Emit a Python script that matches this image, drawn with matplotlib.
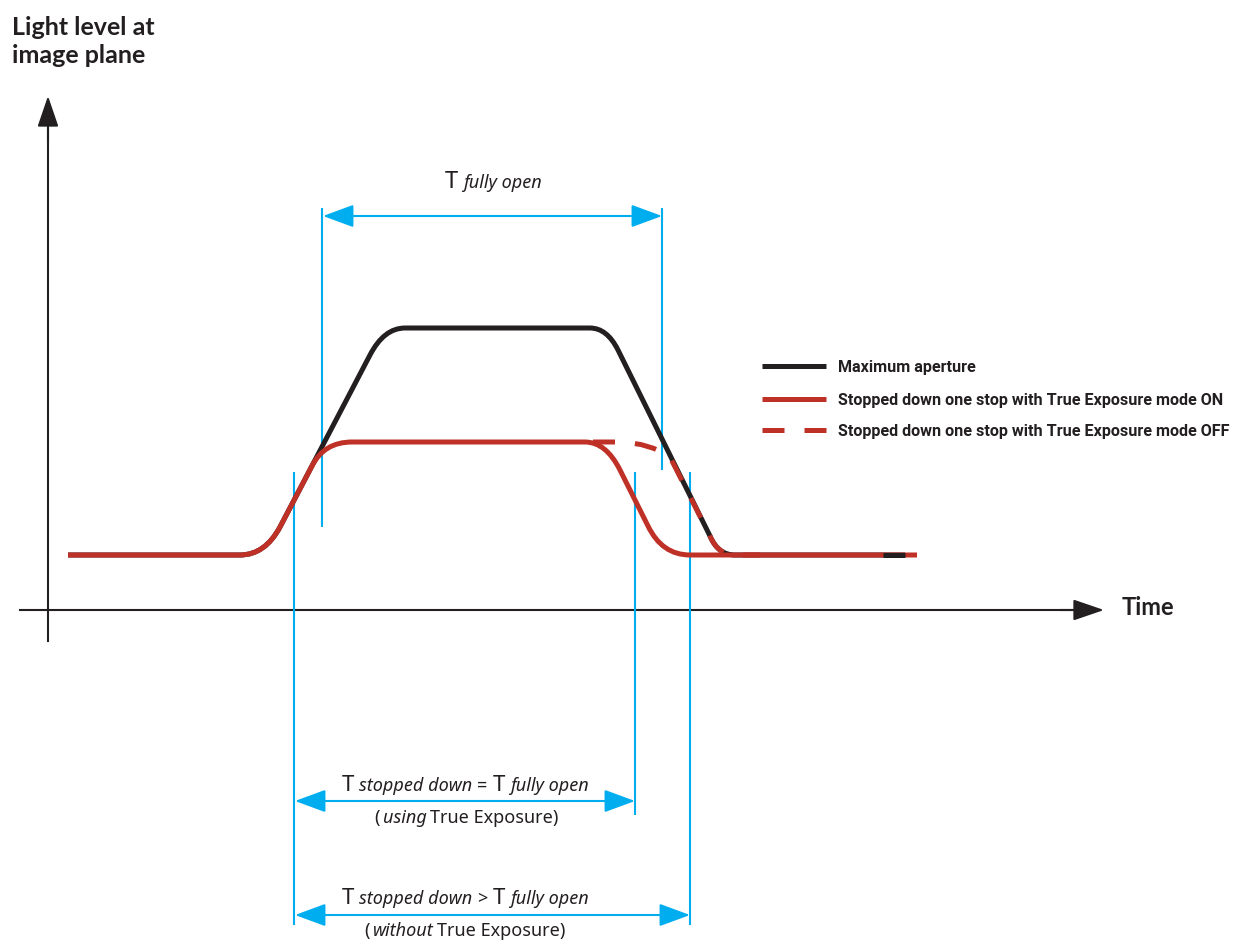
import matplotlib
matplotlib.use("Agg")
import matplotlib.pyplot as plt
from matplotlib.path import Path
from matplotlib.patches import PathPatch, FancyArrowPatch

M, L, Q = Path.MOVETO, Path.LINETO, Path.CURVE3

INK = "#231F20"
RED = "#BF3026"
BLUE = "#00AEEF"
FONT = ["Noto Sans", "DejaVu Sans"]
BOLD = ["Lato", "DejaVu Sans"]
NARROW = ["Roboto", "DejaVu Sans"]

# schematic curves in page units (time to the right, light level upward = smaller y)
max_t = [68, 240, 265, 280, 370, 384, 405, 590, 607, 618, 710, 718, 735, 905]
max_lvl = [555, 555, 555, 527, 355, 328, 328, 328, 328, 350, 536, 555, 555, 555]
max_codes = [M, L, Q, Q, L, Q, Q, L, Q, Q, L, Q, Q, L]

on_t = [68, 240, 265, 280, 312, 324, 352, 585, 606, 620, 648, 662, 690, 917]
on_lvl = [555, 555, 555, 527, 466, 442, 442, 442, 442, 470, 526, 555, 555, 555]
on_codes = [M, L, Q, Q, L, Q, Q, L, Q, Q, L, Q, Q, L]

off_t = [593, 620, 650, 670, 710, 718, 735, 760]
off_lvl = [442, 442, 443, 457, 536, 555, 555, 555]
off_codes = [M, L, Q, Q, L, Q, Q, L]

tail_t = [883, 905]
tail_lvl = [555, 555]

# blue guide lines and duration arrows
guide_x = [322, 662, 294, 635, 690]
guide_top = [208, 208, 472, 472, 472]
guide_bot = [527, 470, 925, 815, 925]
span_left = [323, 295, 295]
span_right = [662, 635, 690]
span_y = [216, 801, 915]

legend_labels = ["Maximum aperture",
                 "Stopped down one stop with True Exposure mode ON",
                 "Stopped down one stop with True Exposure mode OFF"]
legend_y = [366, 399, 430]
legend_width = 394   # width of the longest legend label on the page

fig = plt.figure(figsize=(12.35, 9.42), dpi=100)
ax = fig.add_axes([0, 0, 1, 1])
ax.set_xlim(0, 1235)
ax.set_ylim(942, 0)
ax.axis("off")

LW = 3.6
DASH = (4.4, 4.0)


def curve(t, lvl, codes, **kw):
    p = PathPatch(Path(list(zip(t, lvl)), codes), fill=False, lw=LW,
                  capstyle="butt", joinstyle="round", **kw)
    ax.add_patch(p)
    return p


curve(max_t, max_lvl, max_codes, edgecolor=INK, zorder=2)
curve(on_t, on_lvl, on_codes, edgecolor=RED, zorder=3)
off = curve(off_t, off_lvl, off_codes, edgecolor=RED, zorder=3)
off.set_linestyle((0, DASH))
ax.plot(tail_t, tail_lvl, color=INK, lw=LW, solid_capstyle="butt", zorder=4)

# axes with arrows
ax.plot([20, 1080], [610, 610], color=INK, lw=1.5, zorder=1)
ax.plot([48, 48], [641, 120], color=INK, lw=1.5, zorder=1)
for (x0, y0), (x1, y1) in [((1060, 610), (1104, 610)), ((48, 140), (48, 96))]:
    ax.add_patch(FancyArrowPatch((x0, y0), (x1, y1), arrowstyle="-|>,head_length=1.9,head_width=0.65",
                                 mutation_scale=10, color=INK, lw=1.5, shrinkA=0, shrinkB=0))

ax.vlines(guide_x, guide_top, guide_bot, color=BLUE, lw=1.5, zorder=1)
for xl, xr, y in zip(span_left, span_right, span_y):
    ax.add_patch(FancyArrowPatch((xl, y), (xr, y), arrowstyle="<|-|>,head_length=1.9,head_width=0.7",
                                 mutation_scale=10, color=BLUE, lw=1.5, shrinkA=0, shrinkB=0))

r = fig.canvas.get_renderer()

# legend drawn by hand; labels shrunk to the reference's width
styles = [dict(color=INK), dict(color=RED), dict(color=RED, ls=(0, DASH))]
leg_texts = []
for lab, y, st in zip(legend_labels, legend_y, styles):
    ax.plot([762, 826], [y, y], lw=LW, solid_capstyle="butt", dash_capstyle="butt", **st)
    leg_texts.append(ax.text(838, y + 6, lab, fontsize=14, fontweight="bold",
                             family=NARROW, color=INK, va="baseline", ha="left"))
widest = max(t.get_window_extent(r).width for t in leg_texts)
for t in leg_texts:
    t.set_fontsize(min(14, 14 * legend_width / widest))

# labels
ax.text(12, 35, "Light level at", fontsize=18, fontweight="bold", family=BOLD, color=INK, va="baseline")
ax.text(12, 63, "image plane", fontsize=18, fontweight="bold", family=BOLD, color=INK, va="baseline")
ax.text(1122, 615, "Time", fontsize=17, fontweight="bold", family=BOLD, color=INK, va="baseline")


def mixed_line(cx, y, pieces, gap=5):
    texts = [ax.text(0, y, s, fontsize=fs, style=st, family=FONT, color=INK,
                     va="baseline", ha="left") for s, fs, st in pieces]
    widths = [t.get_window_extent(r).width for t in texts]
    x = cx - (sum(widths) + gap * (len(widths) - 1)) / 2
    for t, w in zip(texts, widths):
        t.set_x(x)
        x += w + gap


mixed_line(493, 188, [("T", 17, "normal"), ("fully open", 13, "italic")])
mixed_line(465, 791, [("T", 16, "normal"), ("stopped down", 13, "italic"), ("=", 13, "normal"),
                      ("T", 16, "normal"), ("fully open", 13, "italic")])
mixed_line(466, 823, [("(", 13, "normal"), ("using", 13, "italic"), ("True Exposure)", 13, "normal")], gap=3)
mixed_line(465, 904, [("T", 16, "normal"), ("stopped down", 13, "italic"), (">", 13, "normal"),
                      ("T", 16, "normal"), ("fully open", 13, "italic")])
mixed_line(465, 936, [("(", 13, "normal"), ("without", 13, "italic"), ("True Exposure)", 13, "normal")], gap=3)

fig.savefig("out.png", dpi=100)
